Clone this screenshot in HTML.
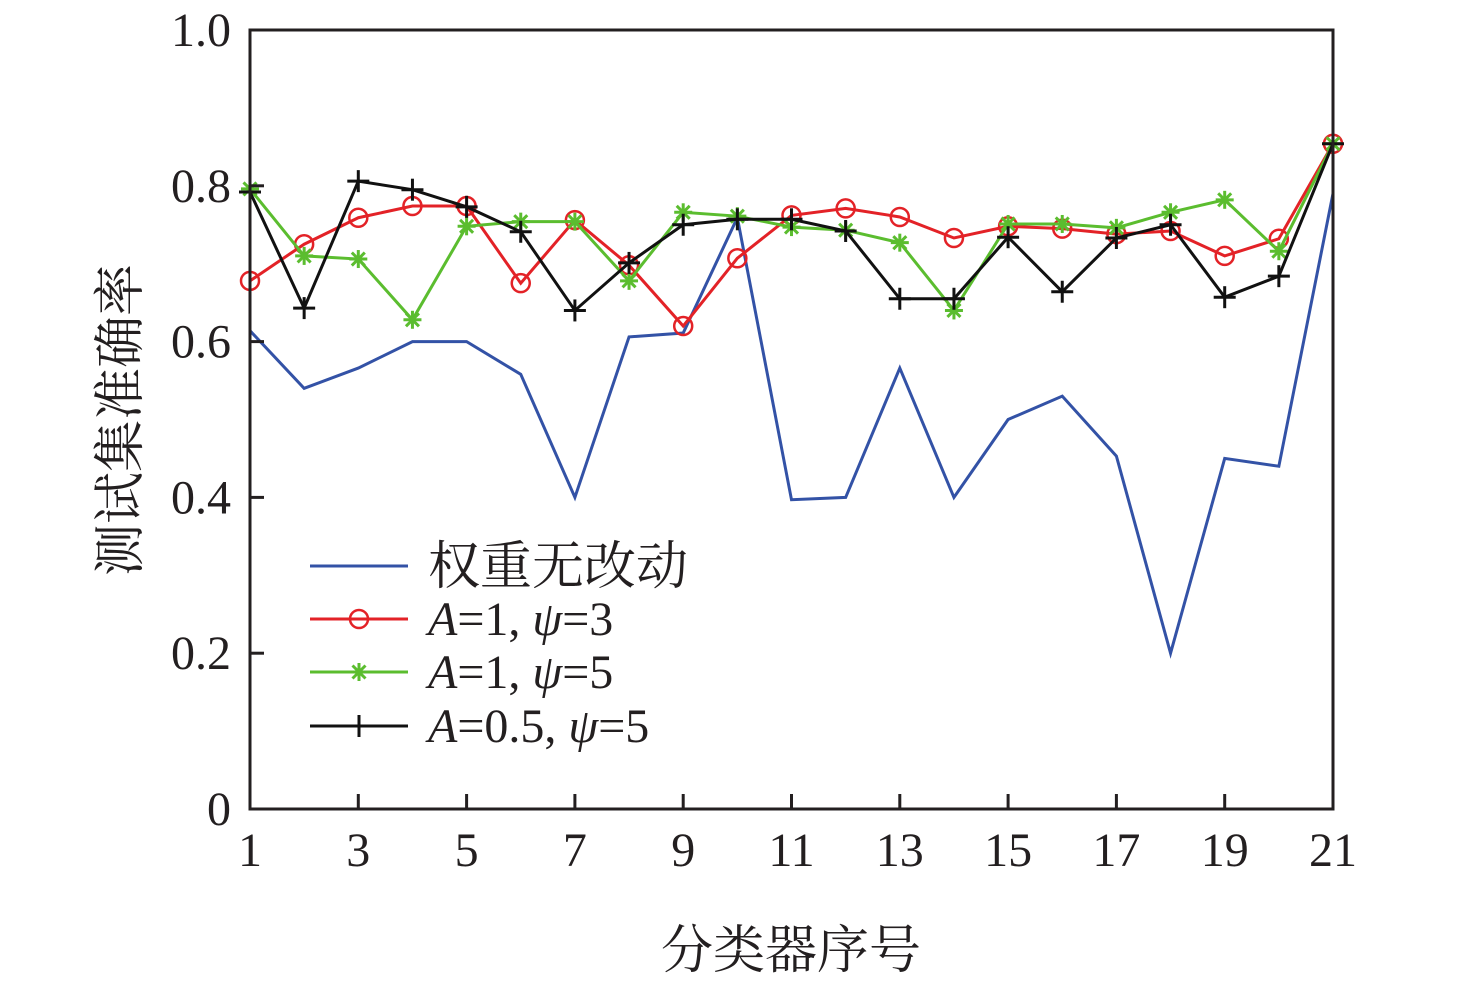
<!DOCTYPE html>
<html><head><meta charset="utf-8">
<style>
html,body{margin:0;padding:0;background:#fff;}
svg{display:block;}
text{font-family:"Liberation Serif",serif;fill:#231f20;}
.cjk{font-family:"Noto Serif CJK SC","Noto Sans CJK SC",serif;}
</style></head>
<body>
<svg id="chart" width="1476" height="984" viewBox="0 0 1476 984">
<g id="marks"></g>
<rect x="250" y="30" width="1083" height="779" fill="none" stroke="#231f20" stroke-width="3"/>
<g id="axes"></g>
<text class="cjk" x="0" y="0" transform="translate(138,420) rotate(-90)" text-anchor="middle" font-size="52">测试集准确率</text>
<text class="cjk" x="791" y="968" text-anchor="middle" font-size="52">分类器序号</text>
<g id="legend"></g>
</svg>
<script>
const categories = [1,2,3,4,5,6,7,8,9,10,11,12,13,14,15,16,17,18,19,20,21];
const seriesBase = [0.614,0.54,0.566,0.60,0.60,0.558,0.40,0.606,0.611,0.759,0.397,0.40,0.566,0.40,0.50,0.53,0.453,0.20,0.45,0.44,0.79];
const seriesA1P3 = [0.678,0.725,0.759,0.774,0.774,0.675,0.756,0.698,0.62,0.707,0.762,0.771,0.76,0.733,0.748,0.745,0.738,0.742,0.71,0.732,0.854];
const seriesA1P5 = [0.796,0.71,0.706,0.628,0.748,0.754,0.754,0.678,0.766,0.761,0.747,0.743,0.727,0.64,0.751,0.751,0.746,0.766,0.782,0.716,0.854];
const seriesA05P5 = [0.792,0.643,0.806,0.795,0.773,0.741,0.64,0.701,0.75,0.757,0.757,0.742,0.655,0.655,0.734,0.664,0.733,0.75,0.657,0.684,0.854];
const yTicks = [0,0.2,0.4,0.6,0.8,1.0];
const yTickLabels = ["0","0.2","0.4","0.6","0.8","1.0"];
const xTicks = [1,3,5,7,9,11,13,15,17,19,21];

const NS="http://www.w3.org/2000/svg";
const X0=250,X1=1333,Y0=809,Y1=30;
const xs=v=>X0+(v-1)/20*(X1-X0);
const ys=v=>Y0-v*(Y0-Y1);
function mk(tag,attrs,parent){const e=document.createElementNS(NS,tag);for(const k in attrs)e.setAttribute(k,attrs[k]);parent.appendChild(e);return e;}
const axes=document.getElementById('axes'),marks=document.getElementById('marks'),legend=document.getElementById('legend');

yTicks.forEach((t,i)=>{
  const l=mk('line',{x1:X0,x2:X0+14,y1:ys(t),y2:ys(t),stroke:'#231f20','stroke-width':3},axes);
  
  
  const tx=mk('text',{x:231,y:ys(t)+16,'text-anchor':'end','font-size':48},axes);
  tx.textContent=yTickLabels[i];
  
  
});
xTicks.forEach(t=>{
  const l=mk('line',{x1:xs(t),x2:xs(t),y1:Y0,y2:Y0-15,stroke:'#231f20','stroke-width':3},axes);
  
  
  const tx=mk('text',{x:xs(t),y:866,'text-anchor':'middle','font-size':48},axes);
  tx.textContent=String(t);
  
  
});

function marker(type,cx,cy,color,parent){
  if(type==='circle'){
    const m=mk('circle',{cx:cx,cy:cy,r:9,fill:'none',stroke:color,'stroke-width':2.5},parent);
    
    
  }else if(type==='star'){
    const g=mk('g',{stroke:color,'stroke-width':3},parent);
    
    
    const r=9;
    mk('line',{x1:cx-r,x2:cx+r,y1:cy,y2:cy},g);
    mk('line',{x1:cx,x2:cx,y1:cy-r,y2:cy+r},g);
    mk('line',{x1:cx-6.5,x2:cx+6.5,y1:cy-6.5,y2:cy+6.5},g);
    mk('line',{x1:cx-6.5,x2:cx+6.5,y1:cy+6.5,y2:cy-6.5},g);
  }else if(type==='plus'){
    const g=mk('g',{stroke:color,'stroke-width':3},parent);
    
    
    const r=11;
    mk('line',{x1:cx-r,x2:cx+r,y1:cy,y2:cy},g);
    mk('line',{x1:cx,x2:cx,y1:cy-r,y2:cy+r},g);
  }
}
const series=[
  {data:seriesBase,color:'#3352a6',m:null,name:'series-no-weight-change',label:'权重无改动'},
  {data:seriesA1P3,color:'#e32227',m:'circle',name:'series-a1-psi3',a:'1',p:'3'},
  {data:seriesA1P5,color:'#5bbd2f',m:'star',name:'series-a1-psi5',a:'1',p:'5'},
  {data:seriesA05P5,color:'#111111',m:'plus',name:'series-a05-psi5',a:'0.5',p:'5'}
];
series.forEach(s=>{
  const g=mk('g',{},marks);
  
  
  const pts=s.data.map((v,i)=>xs(categories[i])+','+ys(v)).join(' ');
  const pl=mk('polyline',{points:pts,fill:'none',stroke:s.color,'stroke-width':3},g);
  
  
  if(s.m) s.data.forEach((v,i)=>marker(s.m,xs(categories[i]),ys(v),s.color,g));
});
const ly=[566,619,672,726];
series.forEach((s,i)=>{
  const g=mk('g',{},legend);
  
  
  mk('line',{x1:310,x2:408,y1:ly[i],y2:ly[i],stroke:s.color,'stroke-width':3},g);
  if(s.m) marker(s.m,359,ly[i],s.color,g);
  if(!s.m){
    const t=mk('text',{x:428,y:ly[i]+18,'font-size':52,'class':'cjk'},g);
    t.textContent=s.label;
  }else{
    const t=mk('text',{x:428,y:ly[i]+16,'font-size':48},g);
    t.innerHTML='<tspan font-style="italic">A</tspan>='+s.a+', <tspan font-style="italic">ψ</tspan>='+s.p;
  }
});
</script>
</body></html>
